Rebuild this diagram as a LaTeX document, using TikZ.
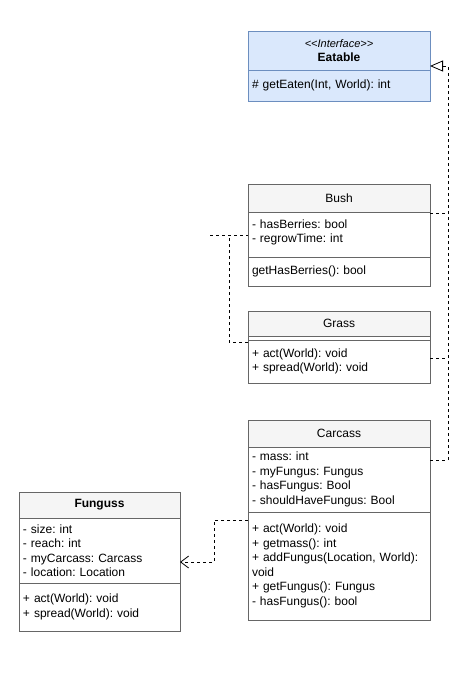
\documentclass[tikz,border=0pt]{standalone}
\usepackage{fontspec}
\setmainfont{Liberation Sans}
\usetikzlibrary{positioning,arrows.meta}
\definecolor{umlline}{HTML}{666666}
\definecolor{headfill}{HTML}{F5F5F5}
\definecolor{ifacefill}{HTML}{DAE8FC}
\definecolor{ifaceline}{HTML}{6C8EBF}
\frenchspacing
\tikzset{
  umlhead/.style={draw=umlline, fill=headfill, line width=0.8pt, outer sep=0pt,
    minimum width=#1, anchor=north, font=\fontsize{12}{14.5}\selectfont},
  umlbold/.style={font=\fontsize{12}{14.5}\selectfont\bfseries},
  umlpart/.style={draw=umlline, fill=white, line width=0.8pt, outer sep=0pt,
    inner xsep=4pt, inner ysep=0pt, text width=#1, align=left,
    font=\fontsize{12}{14.5}\selectfont},
  realize/.style={draw=black, line width=0.8pt, dash pattern=on 3pt off 3pt}
}
\begin{document}
\begin{tikzpicture}[x=1pt,y=-1pt]
\useasboundingbox (0,0) rectangle (464,693);
% Eatable
\node[umlhead=182pt, umlbold, minimum height=39pt, fill=ifacefill, draw=ifaceline, align=center] (eatable) at (339,31)
  {{\fontsize{11}{12}\selectfont\mdseries\itshape <{}<Interface>{}>}\\[0pt] Eatable};
\node[umlpart=174pt, minimum height=31pt, fill=ifacefill, draw=ifaceline, below=0pt of eatable] (eatableops)
  {\# getEaten(Int, World): int};
% Bush
\node[umlhead=182pt, minimum height=28pt] (bush) at (339,184) {Bush};
\node[umlpart=174pt, minimum height=45pt, below=0pt of bush] (bushattr) {- hasBerries: bool\\- regrowTime: int\\[-8pt]\mbox{}};
\node[umlpart=174pt, minimum height=29pt, below=0pt of bushattr] (bushops) {getHasBerries(): bool};
% Grass
\node[umlhead=182pt, minimum height=25pt] (grass) at (339,311) {Grass};
\node[umlpart=174pt, minimum height=4pt, below=0pt of grass] (grassattr) {};
\node[umlpart=174pt, minimum height=43pt, below=0pt of grassattr] (grassops) {+ act(World): void\\+ spread(World): void};
% Carcass
\node[umlhead=182pt, minimum height=27pt] (carcass) at (339,420) {Carcass};
\node[umlpart=174pt, minimum height=65pt, below=0pt of carcass] (carcassattr)
  {- mass: int\\- myFungus: Fungus\\- hasFungus: Bool\\- shouldHaveFungus: Bool};
\node[umlpart=174pt, minimum height=108pt, below=0pt of carcassattr] (carcassops)
  {+ act(World): void\\+ getmass(): int\\+ addFungus(Location, World):\\void\\+ getFungus(): Fungus\\- hasFungus(): bool};
% Funguss
\node[umlhead=161pt, umlbold, minimum height=26pt] (funguss) at (99.5,492) {Funguss};
\node[umlpart=153pt, minimum height=65pt, below=0pt of funguss] (fungussattr)
  {- size: int\\- reach: int\\- myCarcass: Carcass\\- location: Location};
\node[umlpart=153pt, minimum height=48pt, below=0pt of fungussattr] (fungussops)
  {+ act(World): void\\+ spread(World): void};

% connectors
\coordinate (ifacebend) at (448,66);
\draw[realize, -{Triangle[open, length=13pt, width=11pt]}] (carcassattr.east |- 0,460) -| (ifacebend) -- (eatable.east |- ifacebend);
\foreach \c/\y in {bushattr/213, grassops/358}
  \draw[realize] (\c.east |- 0,\y) -- (ifacebend |- 0,\y);
\coordinate (bushfree) at (210,235);
\coordinate (grassjoin) at (229,235);
\draw[realize] (bushfree) -- (bushattr.west |- bushfree);
\draw[realize] (grassops.west |- 0,342) -| (grassjoin);
\coordinate (fungusbend) at (214,562);
\draw[realize, -{Straight Barb[length=8pt, width=12pt]}] (carcassops.west |- 0,520) -| (fungusbend) -- (fungussattr.east |- fungusbend);
\end{tikzpicture}
\end{document}
